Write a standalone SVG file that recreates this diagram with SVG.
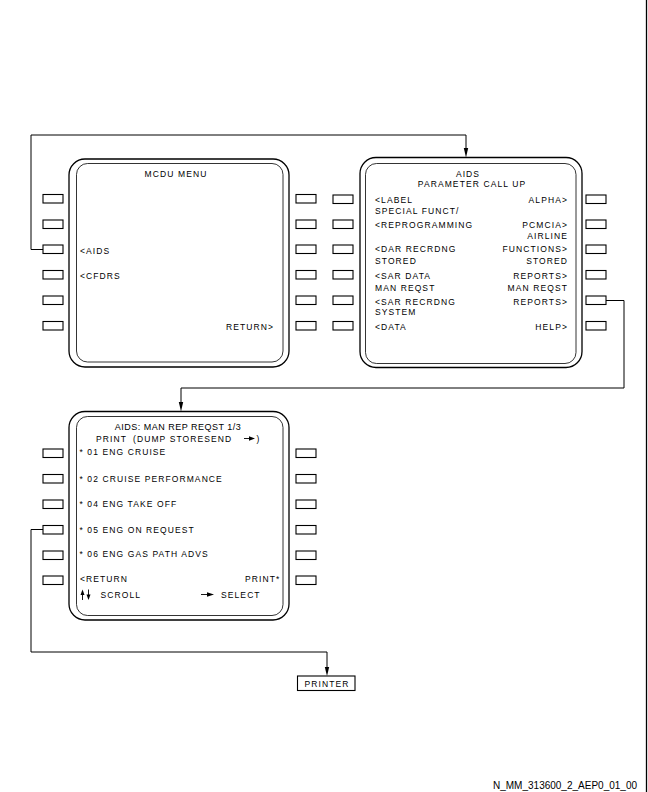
<svg xmlns="http://www.w3.org/2000/svg" width="648" height="792" viewBox="0 0 648 792">
<defs>
<style>
.bg{fill:#fff}
.btn{fill:#fff;stroke:#000;stroke-width:1.1}
.outer{fill:none;stroke:#000;stroke-width:1.3}
.inner{fill:none;stroke:#000;stroke-width:0.8}
.t{font-family:"Liberation Sans",Arial,sans-serif;font-size:8.5px;letter-spacing:1.1px;fill:#000}
.ti{font-family:"Liberation Sans",Arial,sans-serif;font-size:9px;letter-spacing:0.5px;fill:#000}
.ft{font-family:"Liberation Sans",Arial,sans-serif;font-size:10px;fill:#000}
.e{text-anchor:end}
.m{text-anchor:middle}
.con{fill:none;stroke:#000;stroke-width:1}
.sym{fill:none;stroke:#000;stroke-width:0.9}
.ah{fill:#000}
</style>
</defs>
<rect class="bg" x="0" y="0" width="648" height="792"/>

<g id="connectors">
<path class="con" d="M43,249.5 H31 V135 H466 V150"/>
<path class="ah" d="M463.8,148 L466,157.5 L468.2,148 Z"/>
<path class="con" d="M606,300.5 H624 V388 H181 V404"/>
<path class="ah" d="M178.8,402 L181,411.5 L183.2,402 Z"/>
<path class="con" d="M43,529.5 H31 V652 H327 V669"/>
<path class="ah" d="M324.8,667 L327,676 L329.2,667 Z"/>
</g>

<g id="mcdu-menu">
<rect class="outer" x="69" y="159" width="220" height="208" rx="16" ry="16"/>
<rect class="inner" x="76.5" y="163.5" width="206.5" height="198.5" rx="11" ry="11"/>
<rect class="btn" x="43" y="194.5" width="20" height="8.5"/>
<rect class="btn" x="43" y="220" width="20" height="8.5"/>
<rect class="btn" x="43" y="245" width="20" height="8.5"/>
<rect class="btn" x="43" y="270.5" width="20" height="8.5"/>
<rect class="btn" x="43" y="296" width="20" height="8.5"/>
<rect class="btn" x="43" y="321.5" width="20" height="8.5"/>
<rect class="btn" x="296" y="194.5" width="20" height="8.5"/>
<rect class="btn" x="296" y="220" width="20" height="8.5"/>
<rect class="btn" x="296" y="245" width="20" height="8.5"/>
<rect class="btn" x="296" y="270.5" width="20" height="8.5"/>
<rect class="btn" x="296" y="296" width="20" height="8.5"/>
<rect class="btn" x="296" y="321.5" width="20" height="8.5"/>
<text class="t m" x="176" y="177">MCDU MENU</text>
<text class="t" x="80" y="253.5">&lt;AIDS</text>
<text class="t" x="80" y="279">&lt;CFDRS</text>
<text class="t e" x="274" y="329.5">RETURN&gt;</text>
</g>

<g id="aids-menu">
<rect class="outer" x="360" y="157.5" width="222" height="210" rx="16" ry="16"/>
<rect class="inner" x="365.5" y="163.5" width="210.5" height="200" rx="11" ry="11"/>
<rect class="btn" x="333" y="195" width="20" height="8.5"/>
<rect class="btn" x="333" y="220" width="20" height="8.5"/>
<rect class="btn" x="333" y="245" width="20" height="8.5"/>
<rect class="btn" x="333" y="270.5" width="20" height="8.5"/>
<rect class="btn" x="333" y="296" width="20" height="8.5"/>
<rect class="btn" x="333" y="321.5" width="20" height="8.5"/>
<rect class="btn" x="586" y="195" width="20" height="8.5"/>
<rect class="btn" x="586" y="220" width="20" height="8.5"/>
<rect class="btn" x="586" y="245" width="20" height="8.5"/>
<rect class="btn" x="586" y="270.5" width="20" height="8.5"/>
<rect class="btn" x="586" y="296" width="20" height="8.5"/>
<rect class="btn" x="586" y="321.5" width="20" height="8.5"/>
<text class="t m" x="468" y="177">AIDS</text>
<text class="t m" x="472" y="187">PARAMETER CALL UP</text>
<text class="t" x="375" y="203">&lt;LABEL</text>
<text class="t e" x="568" y="203">ALPHA&gt;</text>
<text class="t" x="375" y="214">SPECIAL FUNCT/</text>
<text class="t" x="375" y="227.5">&lt;REPROGRAMMING</text>
<text class="t e" x="568" y="227.5">PCMCIA&gt;</text>
<text class="t e" x="568" y="238.5">AIRLINE</text>
<text class="t" x="375" y="252">&lt;DAR RECRDNG</text>
<text class="t e" x="568" y="252">FUNCTIONS&gt;</text>
<text class="t" x="375" y="263.5">STORED</text>
<text class="t e" x="568" y="263.5">STORED</text>
<text class="t" x="375" y="278.5">&lt;SAR DATA</text>
<text class="t e" x="568" y="278.5">REPORTS&gt;</text>
<text class="t" x="375" y="291">MAN REQST</text>
<text class="t e" x="568" y="291">MAN REQST</text>
<text class="t" x="375" y="304.5">&lt;SAR RECRDNG</text>
<text class="t e" x="568" y="304.5">REPORTS&gt;</text>
<text class="t" x="375" y="315">SYSTEM</text>
<text class="t" x="375" y="330">&lt;DATA</text>
<text class="t e" x="568" y="330">HELP&gt;</text>
</g>

<g id="man-rep-reqst">
<rect class="outer" x="69" y="411.5" width="220" height="208.5" rx="16" ry="16"/>
<rect class="inner" x="76.5" y="416.5" width="206.5" height="199" rx="11" ry="11"/>
<rect class="btn" x="43" y="449" width="20" height="8.5"/>
<rect class="btn" x="43" y="474.5" width="20" height="8.5"/>
<rect class="btn" x="43" y="500" width="20" height="8.5"/>
<rect class="btn" x="43" y="525.5" width="20" height="8.5"/>
<rect class="btn" x="43" y="551" width="20" height="8.5"/>
<rect class="btn" x="43" y="576" width="20" height="8.5"/>
<rect class="btn" x="296" y="449" width="20" height="8.5"/>
<rect class="btn" x="296" y="474.5" width="20" height="8.5"/>
<rect class="btn" x="296" y="500" width="20" height="8.5"/>
<rect class="btn" x="296" y="525.5" width="20" height="8.5"/>
<rect class="btn" x="296" y="551" width="20" height="8.5"/>
<rect class="btn" x="296" y="576" width="20" height="8.5"/>
<text class="ti m" x="178" y="430">AIDS: MAN REP REQST 1/3</text>
<text class="t" x="96" y="442">PRINT</text>
<text class="t" x="133" y="442">(DUMP STORESEND</text>
<line class="sym" x1="244" y1="438.5" x2="250" y2="438.5"/>
<path d="M249,436.3 L255,438.5 L249,440.7 Z" fill="#000"/>
<text class="t" x="256.5" y="442">)</text>
<text class="t" x="79.5" y="455">* 01 ENG CRUISE</text>
<text class="t" x="79.5" y="481.5">* 02 CRUISE PERFORMANCE</text>
<text class="t" x="79.5" y="507">* 04 ENG TAKE OFF</text>
<text class="t" x="79.5" y="533">* 05 ENG ON REQUEST</text>
<text class="t" x="79.5" y="557">* 06 ENG GAS PATH ADVS</text>
<text class="t" x="80" y="582">&lt;RETURN</text>
<text class="t e" x="280.5" y="582">PRINT*</text>
<line class="sym" x1="82.5" y1="594" x2="82.5" y2="600"/>
<path d="M80.5,595 L82.5,589.5 L84.5,595 Z" fill="#000"/>
<line class="sym" x1="88.5" y1="589.5" x2="88.5" y2="595.5"/>
<path d="M86.5,594.5 L88.5,600 L90.5,594.5 Z" fill="#000"/>
<text class="t" x="100.5" y="598">SCROLL</text>
<line class="sym" x1="201" y1="594.5" x2="208" y2="594.5"/>
<path d="M207,592.3 L214,594.5 L207,596.7 Z" fill="#000"/>
<text class="t" x="221" y="598">SELECT</text>
</g>

<g id="printer">
<rect class="btn" x="297.5" y="676" width="57.5" height="14.5"/>
<text class="t m" x="327" y="687">PRINTER</text>
</g>

<line x1="646.5" y1="0" x2="646.5" y2="792" stroke="#000" stroke-width="1.3"/>
<text class="ft" x="493" y="789">N_MM_313600_2_AEP0_01_00</text>
</svg>
